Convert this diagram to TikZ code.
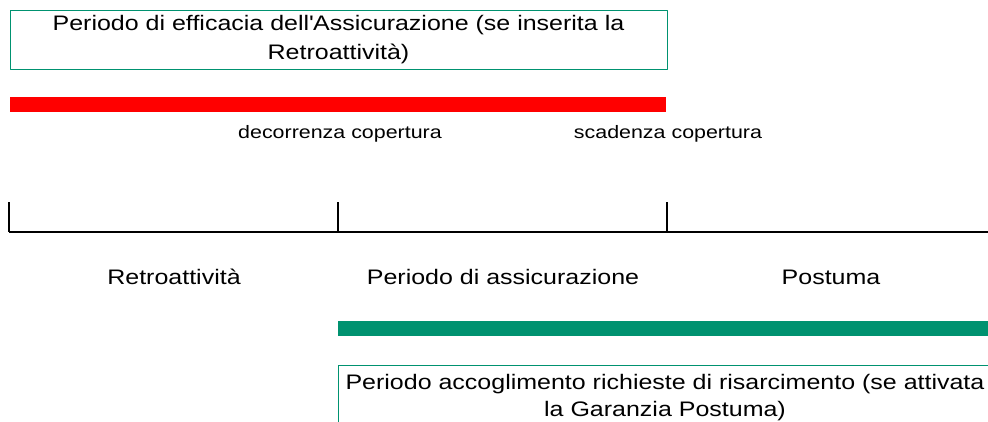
\documentclass[tikz,border=0pt]{standalone}
\usepackage{fontspec}
\setmainfont{Liberation Sans}
\newfontfamily\largo[FakeStretch=1.19]{Liberation Sans}
\definecolor{verde}{RGB}{0,146,112}
\begin{document}
\begin{tikzpicture}[x=1pt, y=-1pt, line join=round, font=\largo\fontsize{21}{29}\selectfont]
	\tikzset{riquadro/.style={draw=verde, line width=1pt, align=center, inner sep=0pt},
		etich/.style={font=\largo\fontsize{18}{20}\selectfont, inner sep=0pt, anchor=base},
		fase/.style={inner sep=0pt, anchor=base}}
	\clip (0,0) rectangle (988,421);
	\node[riquadro, minimum width=657pt, minimum height=59pt] (efficacia) at (338.5,39.5) {Periodo di efficacia dell\textquotesingle Assicurazione (se inserita la\\Retroattività)};
	\fill[red] (10,97) rectangle (666,112);
	\node[etich] (decorrenza) at (340,138) {decorrenza copertura};
	\node[etich] (scadenza) at (668,138) {scadenza copertura};
	%asse dei tempi
	\draw[line width=2.4pt] (9,232) -- (990,232);
	\draw[line width=1.2pt] (9,202) -- (9,232) (338,202) -- (338,232) (667,202) -- (667,232);
	\node[fase] (retro) at (174,284) {Retroattività};
	\node[fase] (periodo) at (503,284) {Periodo di assicurazione};
	\node[fase] (postuma) at (831,284) {Postuma};
	\fill[verde] (338,321) rectangle (990,336);
	\node[riquadro, font=\largo\fontsize{21}{27}\selectfont, minimum width=654pt, minimum height=65pt] (accoglimento) at (665,397.5) {Periodo accoglimento richieste di risarcimento (se attivata\\la Garanzia Postuma)};
\end{tikzpicture}
\end{document}
